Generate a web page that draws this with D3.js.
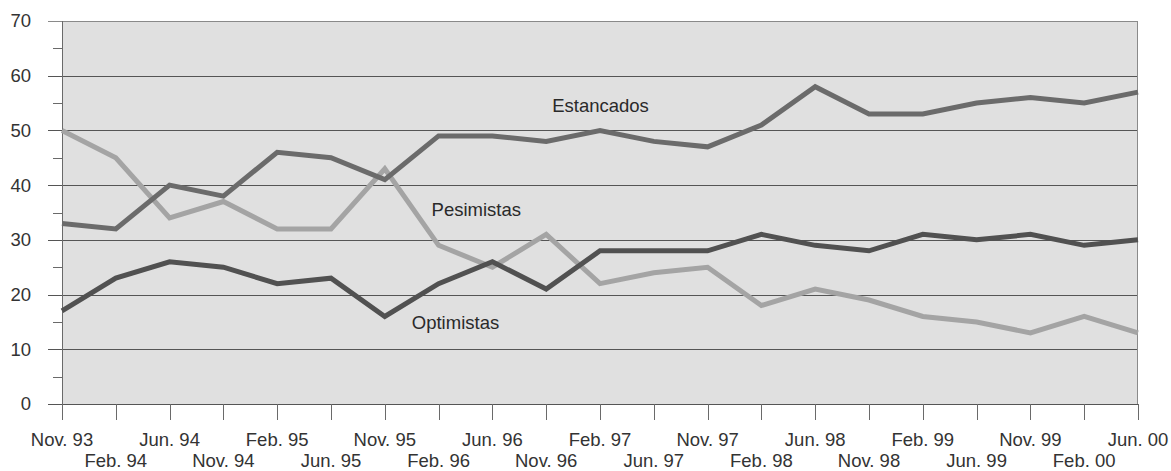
<!DOCTYPE html>
<html>
<head>
<meta charset="utf-8">
<script src="https://cdn.jsdelivr.net/npm/d3@7"></script>
<style>
  html, body { margin: 0; padding: 0; background: #fff; }
  svg { display: block; font-family: "Liberation Sans", Arial, sans-serif; }
</style>
</head>
<body>
<svg id="chart" width="1171" height="471"></svg>
<script>
// Survey periods (x axis)
const periods = ["Nov. 93","Feb. 94","Jun. 94","Nov. 94","Feb. 95","Jun. 95","Nov. 95",
  "Feb. 96","Jun. 96","Nov. 96","Feb. 97","Jun. 97","Nov. 97","Feb. 98","Jun. 98",
  "Nov. 98","Feb. 99","Jun. 99","Nov. 99","Feb. 00","Jun. 00"];

// Percentages per group
const estancados = [33,32,40,38,46,45,41,49,49,48,50,48,47,51,58,53,53,55,56,55,57];
const pesimistas = [50,45,34,37,32,32,43,29,25,31,22,24,25,18,21,19,16,15,13,16,13];
const optimistas = [17,23,26,25,22,23,16,22,26,21,28,28,28,31,29,28,31,30,31,29,30];

// Value axis ticks
const yTicks = [0,10,20,30,40,50,60,70];
const yMinorTicks = [5,15,25,35,45,55,65];

const svg = d3.select("#chart");
const plotLeft = 62, plotRight = 1138, plotTop = 21, plotBottom = 404;
const fontSize = 18.5;

const x = d3.scalePoint().domain(periods).range([plotLeft, plotRight]);
const y = d3.scaleLinear().domain([0, 70]).range([plotBottom, plotTop]);

// plot background
svg.append("rect")
  .attr("x", plotLeft).attr("y", plotTop)
  .attr("width", plotRight - plotLeft).attr("height", plotBottom - plotTop)
  .attr("fill", "#e0e0e0");

// horizontal gridlines (extend left as major ticks)
svg.append("g").selectAll("line").data(yTicks).join("line")
  .attr("x1", 48).attr("x2", plotRight)
  .attr("y1", d => Math.round(y(d)) + 0.5).attr("y2", d => Math.round(y(d)) + 0.5)
  .attr("stroke", d => d === 70 ? "#8a8a8a" : "#555")
  .attr("stroke-width", 1);

// minor ticks on value axis
svg.append("g").selectAll("line").data(yMinorTicks).join("line")
  .attr("x1", 53).attr("x2", plotLeft)
  .attr("y1", d => Math.round(y(d)) + 0.5).attr("y2", d => Math.round(y(d)) + 0.5)
  .attr("stroke", "#6a6a6a");

// value axis line and right border
svg.append("line")
  .attr("x1", plotLeft + 0.5).attr("x2", plotLeft + 0.5).attr("y1", plotTop).attr("y2", plotBottom + 16)
  .attr("stroke", "#6a6a6a");
svg.append("line")
  .attr("x1", plotRight - 0.5).attr("x2", plotRight - 0.5).attr("y1", plotTop).attr("y2", plotBottom)
  .attr("stroke", "#8a8a8a");

// value labels
svg.append("g").selectAll("text").data(yTicks).join("text")
  .attr("x", 31).attr("y", d => y(d))
  .attr("dy", "0.35em")
  .attr("text-anchor", "end")
  .attr("font-size", fontSize)
  .attr("fill", "#333")
  .text(d => d);

// category ticks below axis
svg.append("g").selectAll("line").data(periods).join("line")
  .attr("x1", d => Math.round(x(d)) + 0.5).attr("x2", d => Math.round(x(d)) + 0.5)
  .attr("y1", plotBottom).attr("y2", plotBottom + 16)
  .attr("stroke", "#6a6a6a");

// category labels, alternating rows
svg.append("g").selectAll("text").data(periods).join("text")
  .attr("x", d => x(d))
  .attr("y", (d, i) => i % 2 === 0 ? 446 : 467)
  .attr("text-anchor", "middle")
  .attr("font-size", fontSize)
  .attr("fill", "#333")
  .text(d => d);

const line = d3.line()
  .x((d, i) => x(periods[i]))
  .y(d => y(d));

const series = [
  { name: "Pesimistas", values: pesimistas, color: "#a4a4a4" },
  { name: "Estancados", values: estancados, color: "#6b6b6b" },
  { name: "Optimistas", values: optimistas, color: "#515151" }
];

svg.append("g").selectAll("path").data(series).join("path")
  .attr("d", d => line(d.values))
  .attr("fill", "none")
  .attr("stroke", d => d.color)
  .attr("stroke-width", 5)
  .attr("stroke-linejoin", "miter");

// series labels
const labels = [
  { text: "Estancados", xi: 9, v: 54.5, dx: 6 },
  { text: "Pesimistas", xi: 7, v: 35.5, dx: -7 },
  { text: "Optimistas", xi: 6, v: 14.8, dx: 27 }
];
svg.append("g").selectAll("text").data(labels).join("text")
  .attr("x", d => x(periods[d.xi]) + d.dx)
  .attr("y", d => y(d.v))
  .attr("dy", "0.35em")
  .attr("font-size", fontSize)
  .attr("fill", "#2a2a2a")
  .text(d => d.text);
</script>
</body>
</html>
